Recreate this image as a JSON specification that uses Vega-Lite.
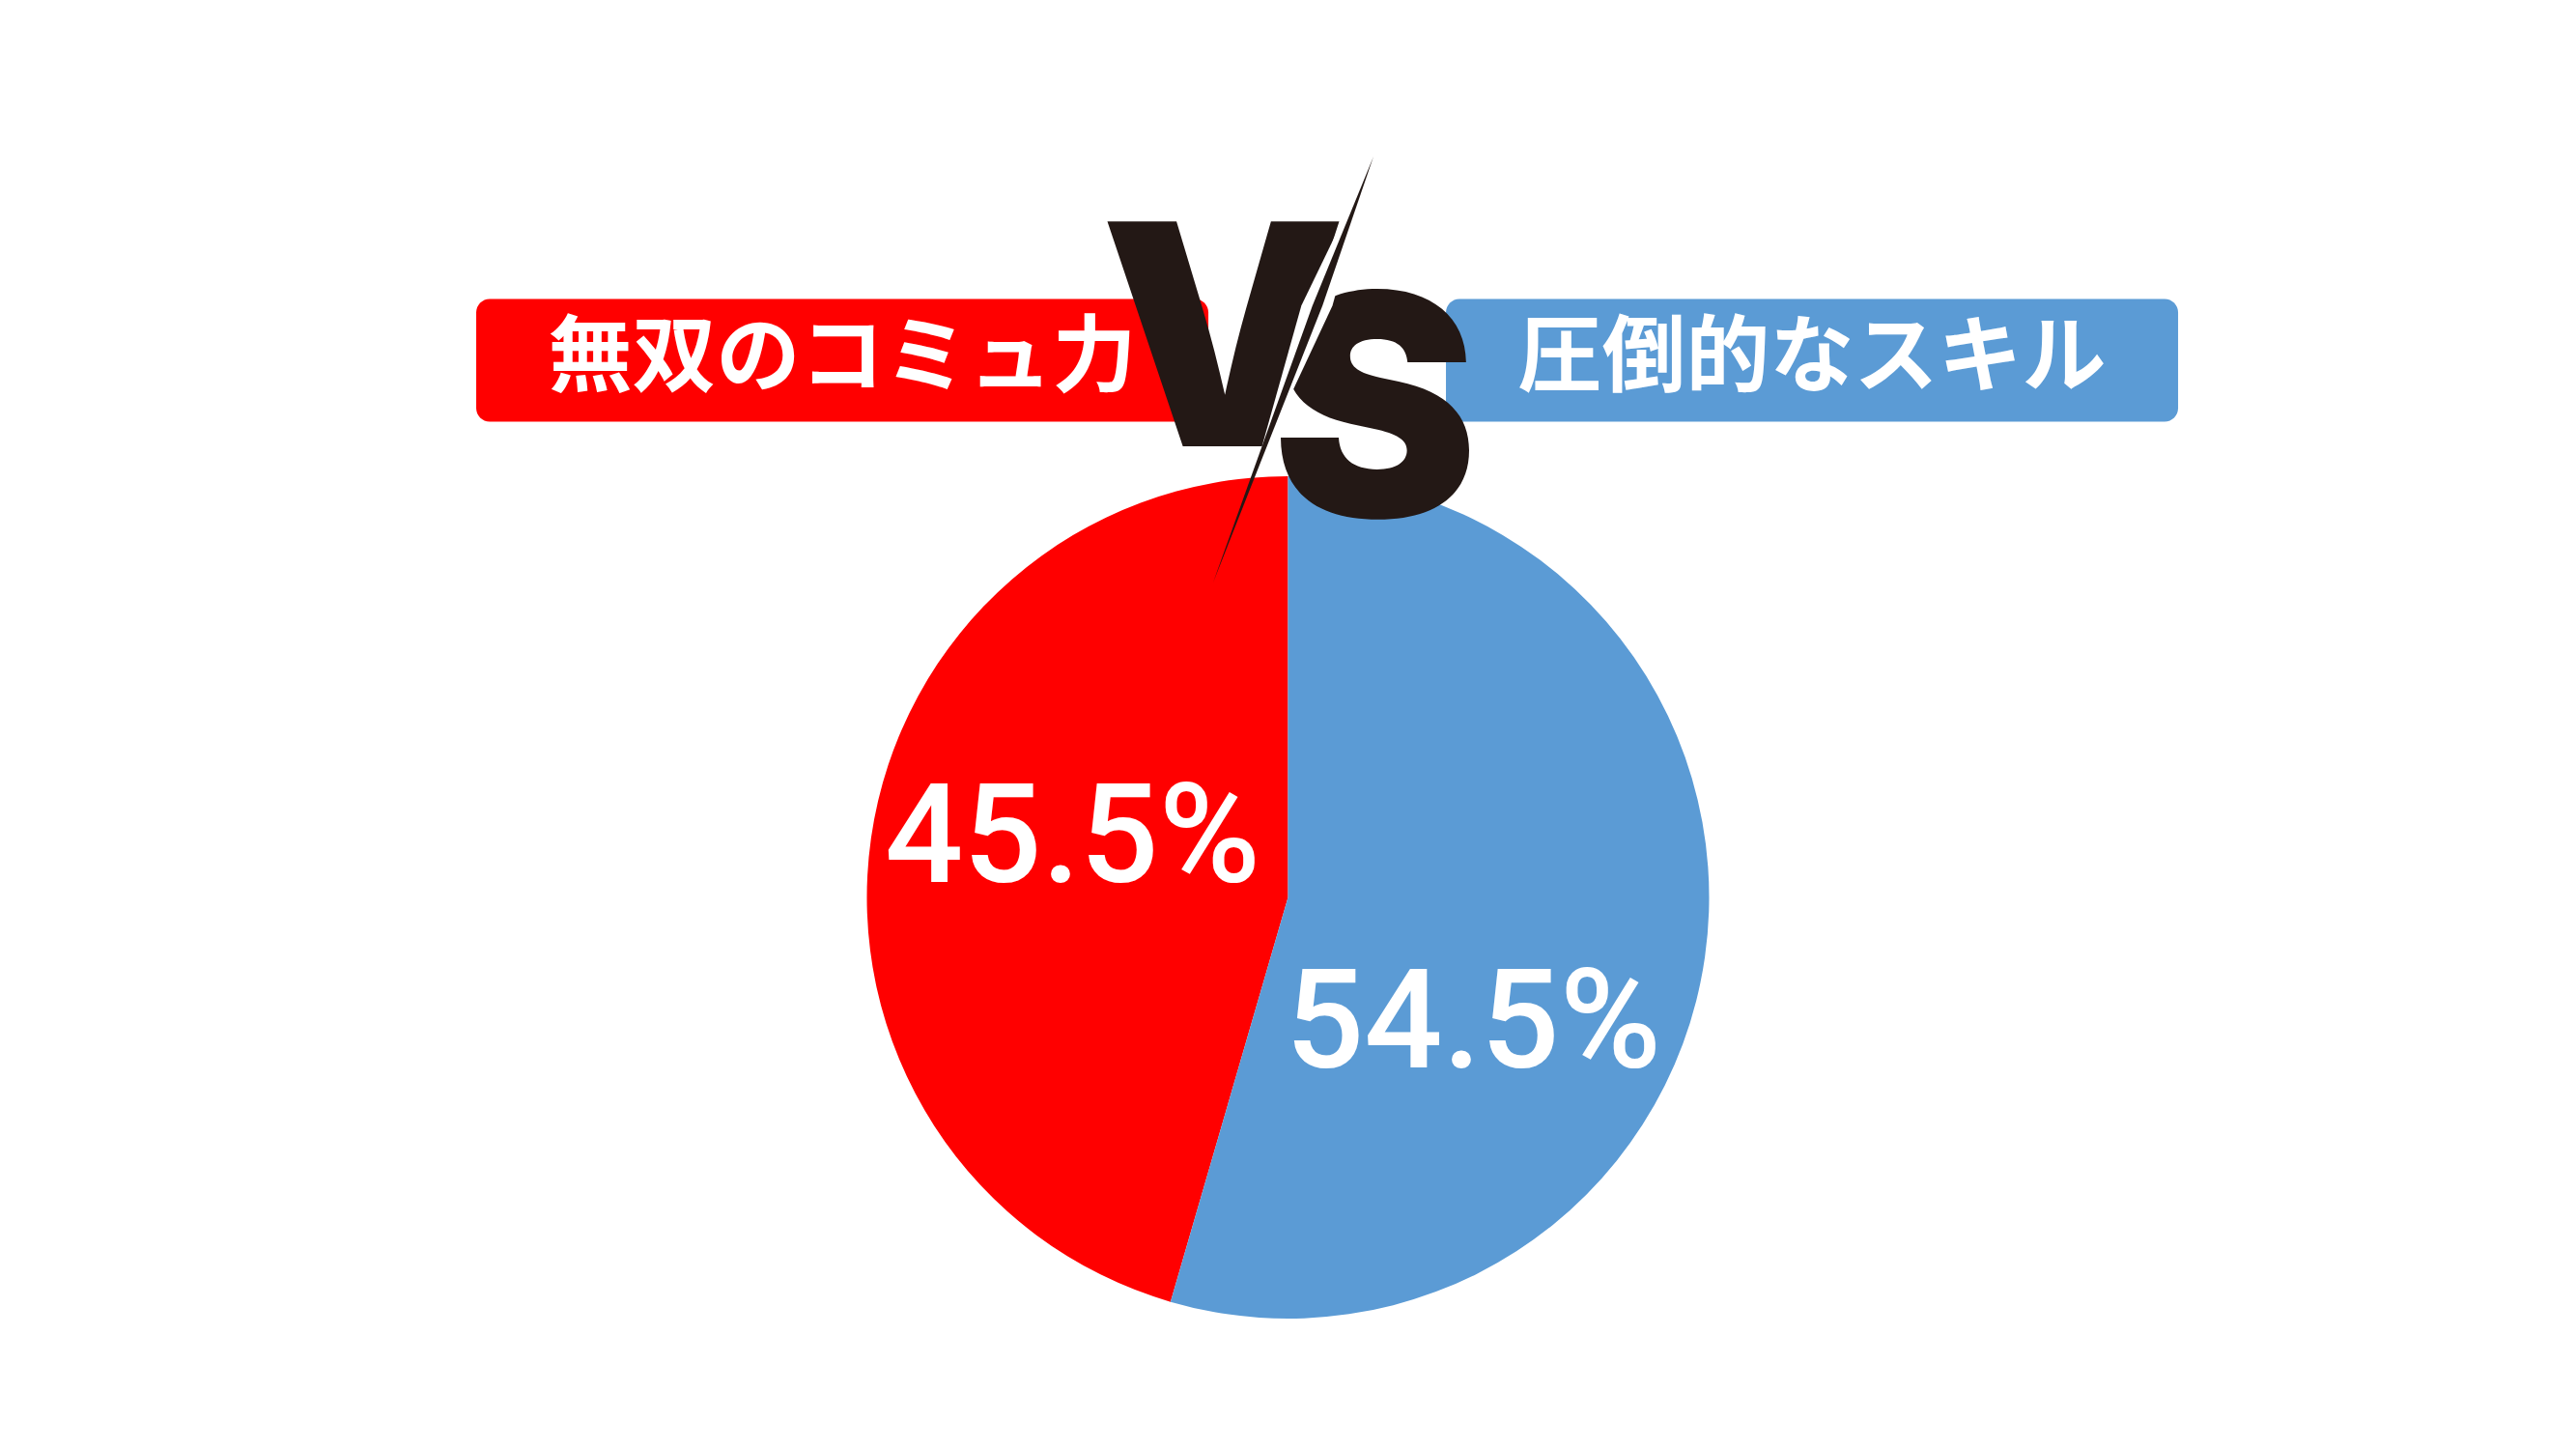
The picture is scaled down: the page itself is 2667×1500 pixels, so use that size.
{
  "$schema": "https://vega.github.io/schema/vega-lite/v6.json",
  "width": 2667,
  "height": 1500,
  "autosize": {"type": "none"},
  "padding": 0,
  "background": "white",
  "config": {"view": {"stroke": null}},
  "data": {"values": [
    {"series": "無双のコミュ力", "share": 0.455},
    {"series": "圧倒的なスキル", "share": 0.545}
  ]},
  "encoding": {
    "y": {"datum": "pie", "type": "nominal",
      "scale": {"type": "point", "domain": ["header", "pie"], "padding": 0.849, "align": 0.3951},
      "axis": null}
  },
  "layer": [
    {
      "mark": {"type": "arc", "outerRadius": 436},
      "encoding": {
        "theta": {"field": "share", "type": "quantitative", "stack": true},
        "order": {"field": "share", "type": "quantitative", "sort": "descending"},
        "color": {"field": "series", "type": "nominal",
          "scale": {"domain": ["無双のコミュ力", "圧倒的なスキル"], "range": ["#FF0000", "#5B9BD5"]},
          "legend": null}
      }
    },
    {
      "mark": {"type": "bar", "height": 127, "cornerRadius": 14},
      "encoding": {
        "x": {"field": "series", "type": "nominal",
          "scale": {"type": "band", "domain": ["無双のコミュ力", "圧倒的なスキル"], "paddingInner": 0.245, "paddingOuter": 0.4507, "align": 0.5448},
          "axis": null},
        "y": {"datum": "header", "type": "nominal"},
        "color": {"field": "series", "type": "nominal", "legend": null}
      }
    },
    {
      "mark": {"type": "text", "color": "white", "font": "Noto Sans CJK JP", "fontWeight": "bold", "fontSize": 87, "baseline": "middle", "align": "center"},
      "encoding": {
        "x": {"field": "series", "type": "nominal"},
        "y": {"datum": "header", "type": "nominal"},
        "text": {"field": "series"}
      }
    },
    {
      "transform": [{"filter": "datum.series === '無双のコミュ力'"}],
      "mark": {"type": "text", "color": "white", "font": "Roboto", "fontWeight": 500, "fontSize": 143, "baseline": "alphabetic", "align": "center", "dx": -223, "dy": -16},
      "encoding": {"text": {"field": "share", "type": "quantitative", "format": ".1%"}}
    },
    {
      "transform": [{"filter": "datum.series === '圧倒的なスキル'"}],
      "mark": {"type": "text", "color": "white", "font": "Roboto", "fontWeight": 500, "fontSize": 143, "baseline": "alphabetic", "align": "center", "dx": 192, "dy": 176},
      "encoding": {"text": {"field": "share", "type": "quantitative", "format": ".1%"}}
    },
    {
      "data": {"values": [{"mark": "V"}]},
      "mark": {"type": "text", "color": "#231815", "font": "Inter", "fontWeight": 900, "fontSize": 320, "baseline": "alphabetic", "align": "center", "dx": -67, "dy": 89},
      "encoding": {"y": {"datum": "header", "type": "nominal"}, "text": {"field": "mark"}}
    },
    {
      "data": {"values": [{"mark": "S"}]},
      "mark": {"type": "text", "color": "#231815", "font": "Inter", "fontWeight": 900, "fontSize": 320, "baseline": "alphabetic", "align": "center", "dx": 90, "dy": 162},
      "encoding": {"y": {"datum": "header", "type": "nominal"}, "text": {"field": "mark"}}
    },
    {
      "data": {"values": [{"mark": "slash"}]},
      "mark": {"type": "point", "filled": true, "color": "white", "opacity": 1, "strokeWidth": 0, "size": 211600,
        "shape": "M0.385,-0.917L0.2,-0.246L-0.149,0.501L0.06,-0.246Z"},
      "encoding": {"y": {"datum": "header", "type": "nominal"}}
    },
    {
      "data": {"values": [{"mark": "slash"}]},
      "mark": {"type": "point", "filled": true, "color": "#231815", "opacity": 1, "strokeWidth": 0, "size": 211600,
        "shape": "M0.385,-0.917L0.155,-0.246L-0.337,1L0.11,-0.246Z"},
      "encoding": {"y": {"datum": "header", "type": "nominal"}}
    }
  ]
}
